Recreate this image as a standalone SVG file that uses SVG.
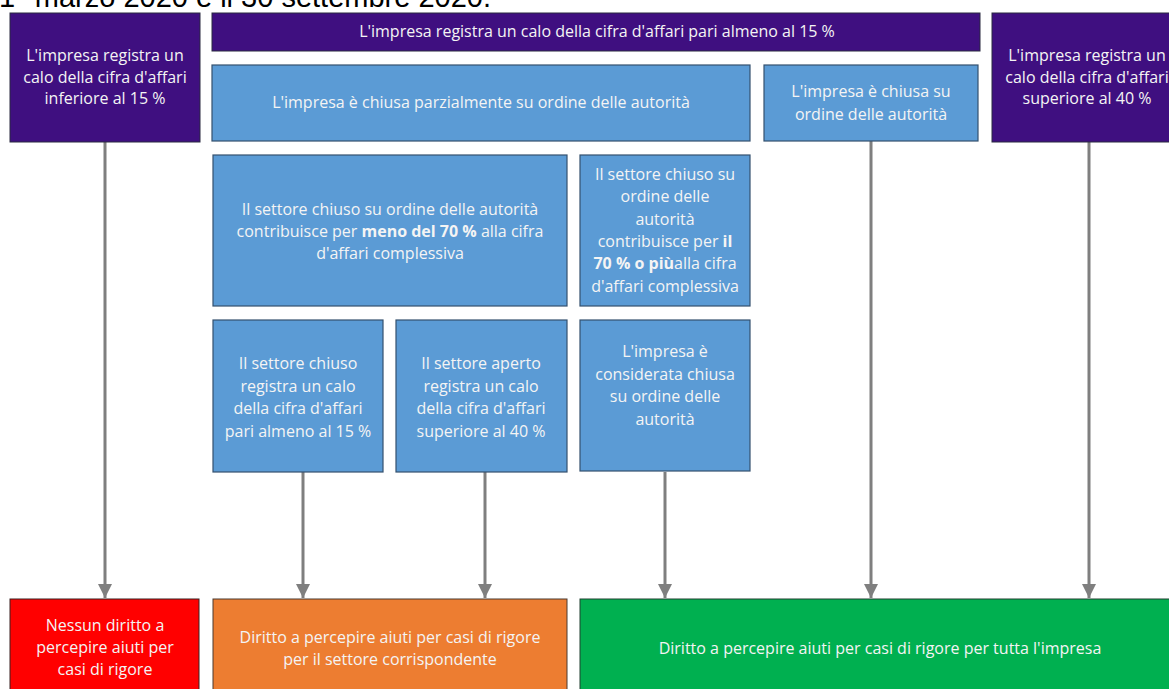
<svg xmlns="http://www.w3.org/2000/svg" width="1169" height="689" viewBox="0 0 1169 689">
<defs>
<style>
.t{font-family:"Open Sans","Liberation Sans",sans-serif;font-size:16px;fill:#f4f4f4;text-anchor:middle}
.b{font-weight:bold}
.pu{fill:#3f0f80;stroke:#2b2b40;stroke-width:1}
.bl{fill:#5b9bd5;stroke:#34506e;stroke-width:1.2}
.re{fill:#ff0000;stroke:#3a2020;stroke-width:1}
.or{fill:#ed7d31;stroke:#4a3a30;stroke-width:1}
.gr{fill:#00b050;stroke:#204030;stroke-width:1}
.c{stroke:#7f7f7f;stroke-width:3;fill:none;marker-end:url(#ah)}
</style>
<marker id="ah" markerUnits="userSpaceOnUse" markerWidth="14" markerHeight="14" refX="12" refY="6" orient="auto" viewBox="0 0 12 12">
<path d="M0,0 L12,6 L0,12 Z" fill="#7f7f7f"/>
</marker>
</defs>
<rect width="1169" height="689" fill="#ffffff"/>
<text x="-1" y="6.5" style="font-family:'Liberation Sans',Arial,sans-serif;font-size:29px;fill:#000">1° marzo 2020 e il 30 settembre 2020.</text>

<g id="connectors">
<line class="c" x1="105" y1="142" x2="105" y2="598"/>
<line class="c" x1="303" y1="472" x2="303" y2="598"/>
<line class="c" x1="485" y1="472" x2="485" y2="598"/>
<line class="c" x1="665" y1="472" x2="665" y2="598"/>
<line class="c" x1="871" y1="141" x2="871" y2="598"/>
<line class="c" x1="1089" y1="142" x2="1089" y2="598"/>
</g>

<g id="n_inf15">
<rect class="pu" x="10" y="13" width="190" height="129"/>
<text class="t" x="105" y="61">L'impresa registra un</text>
<text class="t" x="105" y="83">calo della cifra d'affari</text>
<text class="t" x="105" y="104">inferiore al 15 %</text>
</g>
<g id="n_almeno15">
<rect class="pu" x="212" y="13" width="768" height="38"/>
<text class="t" x="597" y="37">L'impresa registra un calo della cifra d'affari pari almeno al 15 %</text>
</g>
<g id="n_sup40">
<rect class="pu" x="992" y="13" width="190" height="129"/>
<text class="t" x="1087" y="61">L'impresa registra un</text>
<text class="t" x="1087" y="83">calo della cifra d'affari</text>
<text class="t" x="1087" y="104">superiore al 40 %</text>
</g>
<g id="n_parz">
<rect class="bl" x="212" y="65" width="538" height="76"/>
<text class="t" x="481" y="108">L'impresa è chiusa parzialmente su ordine delle autorità</text>
</g>
<g id="n_chiusa">
<rect class="bl" x="764" y="65" width="214" height="76"/>
<text class="t" x="871" y="97">L'impresa è chiusa su</text>
<text class="t" x="871" y="120">ordine delle autorità</text>
</g>
<g id="n_meno70">
<rect class="bl" x="213" y="155" width="354" height="151"/>
<text class="t" x="390" y="215">Il settore chiuso su ordine delle autorità</text>
<text class="t" x="390" y="237">contribuisce per <tspan class="b">meno del 70 %</tspan> alla cifra</text>
<text class="t" x="390" y="259">d'affari complessiva</text>
</g>
<g id="n_70piu">
<rect class="bl" x="580" y="155" width="170" height="151"/>
<text class="t" x="665" y="180">Il settore chiuso su</text>
<text class="t" x="665" y="202">ordine delle</text>
<text class="t" x="665" y="225">autorità</text>
<text class="t" x="665" y="247">contribuisce per <tspan class="b">il</tspan></text>
<text class="t" x="665" y="269"><tspan class="b">70 % o più</tspan>alla cifra</text>
<text class="t" x="665" y="292">d'affari complessiva</text>
</g>
<g id="n_chiuso15">
<rect class="bl" x="213" y="320" width="170" height="152"/>
<text class="t" x="298" y="369">Il settore chiuso</text>
<text class="t" x="298" y="392">registra un calo</text>
<text class="t" x="298" y="414">della cifra d'affari</text>
<text class="t" x="298" y="437">pari almeno al 15 %</text>
</g>
<g id="n_aperto40">
<rect class="bl" x="396" y="320" width="171" height="152"/>
<text class="t" x="481" y="369">Il settore aperto</text>
<text class="t" x="481" y="392">registra un calo</text>
<text class="t" x="481" y="414">della cifra d'affari</text>
<text class="t" x="481" y="437">superiore al 40 %</text>
</g>
<g id="n_consid">
<rect class="bl" x="580" y="320" width="170" height="151"/>
<text class="t" x="665" y="357">L'impresa è</text>
<text class="t" x="665" y="380">considerata chiusa</text>
<text class="t" x="665" y="402">su ordine delle</text>
<text class="t" x="665" y="425">autorità</text>
</g>
<g id="n_nessun">
<rect class="re" x="10" y="599" width="189" height="95"/>
<text class="t" x="105" y="631">Nessun diritto a</text>
<text class="t" x="105" y="653">percepire aiuti per</text>
<text class="t" x="105" y="675">casi di rigore</text>
</g>
<g id="n_settore">
<rect class="or" x="213" y="599" width="354" height="95"/>
<text class="t" x="390" y="643">Diritto a percepire aiuti per casi di rigore</text>
<text class="t" x="390" y="665">per il settore corrispondente</text>
</g>
<g id="n_tutta">
<rect class="gr" x="580" y="599" width="600" height="95"/>
<text class="t" x="880" y="654">Diritto a percepire aiuti per casi di rigore per tutta l'impresa</text>
</g>
</svg>
